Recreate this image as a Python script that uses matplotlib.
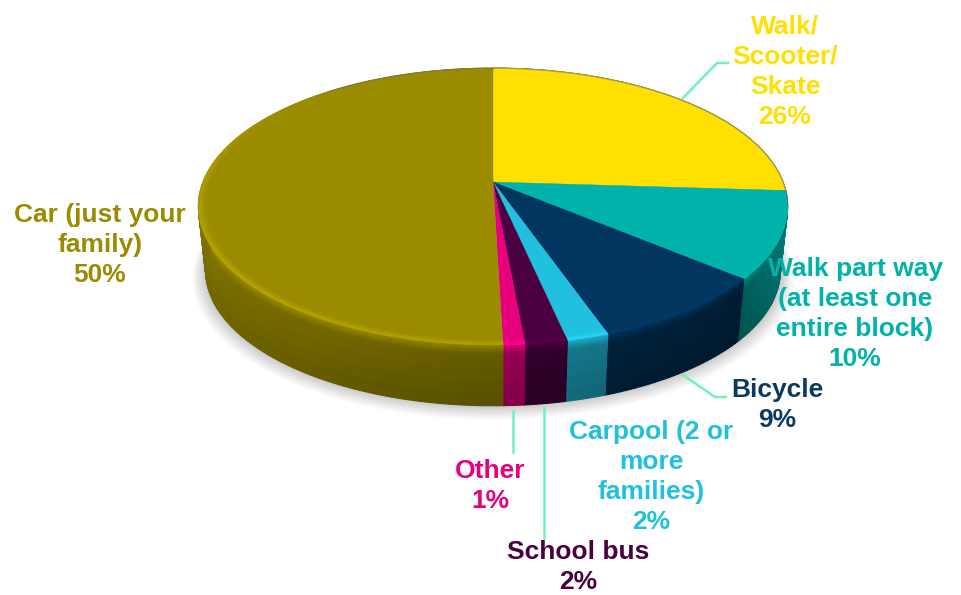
# -*- coding: utf-8 -*-
import numpy as np
import matplotlib.pyplot as plt
from matplotlib.collections import PolyCollection
from matplotlib.colors import to_rgb
from matplotlib.patches import Polygon

plt.rcParams['font.family'] = ['Liberation Sans', 'DejaVu Sans']

# survey shares in percent, clockwise from twelve o'clock
names = ['Walk/\nScooter/\nSkate', 'Walk part way\n(at least one\nentire block)', 'Bicycle',
         'Carpool (2 or\nmore\nfamilies)', 'School bus', 'Other', 'Car (just your\nfamily)']
shares = [26.0, 10.1, 8.55, 1.95, 1.95, 1.0, 50.45]
colors = ['#FFE000', '#00B2A9', '#003660', '#20C0DE', '#4B0042', '#E6007E', '#9A8B00']
text_colors = ['#FFE000', '#00B2A9', '#0B3A61', '#20C0DE', '#4B0042', '#E6007E', '#9A8B00']
label_x = [785, 855, 777, 651, 578, 490, 100]
label_y = [72, 314, 405, 477, 567, 486, 245]

leaders = [([683, 717, 728], [98, 63, 63]),
           ([683, 715, 726], [375, 397, 397]),
           ([513, 513], [411, 452]),
           ([544, 544], [408, 538])]

# projection of the disc onto the page
HUB_X, HUB_Y = 493, 182
RX, RY, PERSP = 290, 134, 0.177
THICK, BOTTOM_SCALE = 65, 0.975


def rim(theta, r=1.0, scale=1.0, drop=0.0):
    """Page coordinates of a disc point, theta in degrees clockwise from the top."""
    t = np.radians(theta)
    u, v = r * np.sin(t), r * np.cos(t)
    w = 1 + PERSP * v
    return np.column_stack((HUB_X + scale * RX * u / w, HUB_Y - scale * RY * v / w + drop))


def shade(rgb, f):
    return tuple(np.clip(np.array(rgb) * f, 0, 1))


def wall_factor(theta, t):
    # t runs from the top edge of the side (0) to the bottom edge (1)
    base = np.interp(theta, [90, 130, 180, 270], [0.8, 0.5, 0.62, 0.85])
    glow = np.interp(theta, [60, 140, 300], [0.0, 0.9, 1.1])
    return np.interp(t, [0, 0.16, 1], [glow, base * 1.06, base * 0.92])


fig = plt.figure(figsize=(9.61, 5.95), dpi=100)
ax = fig.add_axes([0, 0, 1, 1])
ax.set_xlim(0, 961)
ax.set_ylim(595, 0)
ax.axis('off')

edges = np.concatenate(([0], np.cumsum(shares)))
edges = edges * 360 / edges[-1]
circle = np.linspace(0, 360, 361)

# soft shadow under the disc
for i in range(14):
    ax.add_patch(Polygon(rim(circle, scale=BOTTOM_SCALE + 0.0035 * i, drop=THICK + 0.5 * i),
                         facecolor='black', edgecolor='none', alpha=0.017, zorder=1))

# side wall, split in small quads so the shading can vary
steps_t = np.array([0, 0.04, 0.08, 0.12, 0.16, 0.24, 0.4, 0.6, 0.8, 1.0])
quads, quad_colors = [], []
for k, col in enumerate(colors):
    rgb = to_rgb(col)
    a = np.arange(edges[k], edges[k + 1], 1.0)
    a = np.append(a, edges[k + 1])
    for th0, th1 in zip(a[:-1], a[1:]):
        for t0, t1 in zip(steps_t[:-1], steps_t[1:]):
            s0, s1 = 1 + t0 * (BOTTOM_SCALE - 1), 1 + t1 * (BOTTOM_SCALE - 1)
            p = np.vstack((rim(th0, scale=s0, drop=THICK * t0), rim(th1, scale=s0, drop=THICK * t0),
                           rim(th1, scale=s1, drop=THICK * t1), rim(th0, scale=s1, drop=THICK * t1)))
            quads.append(p)
            quad_colors.append(shade(rgb, wall_factor((th0 + th1) / 2, (t0 + t1) / 2)))
ax.add_collection(PolyCollection(quads, facecolors=quad_colors, edgecolors=quad_colors,
                                 linewidths=0.8, zorder=2))

# top face of each slice
for k, col in enumerate(colors):
    a = np.linspace(edges[k], edges[k + 1], 200)
    pts = np.vstack(([[HUB_X, HUB_Y]], rim(a)))
    ax.add_patch(Polygon(pts, facecolor=col, edgecolor=col, linewidth=0.3, zorder=3))

# rounded edge catching the light along the front of the top face
bevel_steps = [(0.972, 0.978, 0.1), (0.978, 0.984, 0.3), (0.984, 0.989, 0.55),
               (0.989, 0.994, 0.8), (0.994, 1.0, 1.0)]
for k, col in enumerate(colors):
    rgb = to_rgb(col)
    a = np.arange(edges[k], edges[k + 1], 1.0)
    a = np.append(a, edges[k + 1])
    bevel, bevel_colors = [], []
    for th0, th1 in zip(a[:-1], a[1:]):
        mid = (th0 + th1) / 2
        amount = np.interp(mid, [95, 140, 180, 230, 280, 310], [0, 0.05, 0.14, 0.18, 0.1, 0])
        for r0, r1, g in bevel_steps:
            p = np.vstack((rim(th0, r=r0), rim(th1, r=r0), rim(th1, r=r1), rim(th0, r=r1)))
            bevel.append(p)
            bevel_colors.append(shade(rgb, 1 + amount * g))
    ax.add_collection(PolyCollection(bevel, facecolors=bevel_colors, edgecolors=bevel_colors,
                                     linewidths=0.5, zorder=4))

# thin grey line on the far edge
back = np.linspace(-40, 100, 200)
ax.plot(*rim(back).T, color='#6f6f60', lw=0.9, alpha=0.6, zorder=5)

for lx, ly in leaders:
    ax.plot(lx, ly, color='#6FF3BC', lw=1.8, solid_joinstyle='miter', zorder=6)

for name, share, col, x, y in zip(names, shares, text_colors, label_x, label_y):
    ax.text(x, y, f'{name}\n{share:.0f}%', color=col, fontsize=19, fontweight='bold',
            ha='center', va='center', linespacing=1.33, zorder=7)

fig.savefig('out.png', dpi=100)
